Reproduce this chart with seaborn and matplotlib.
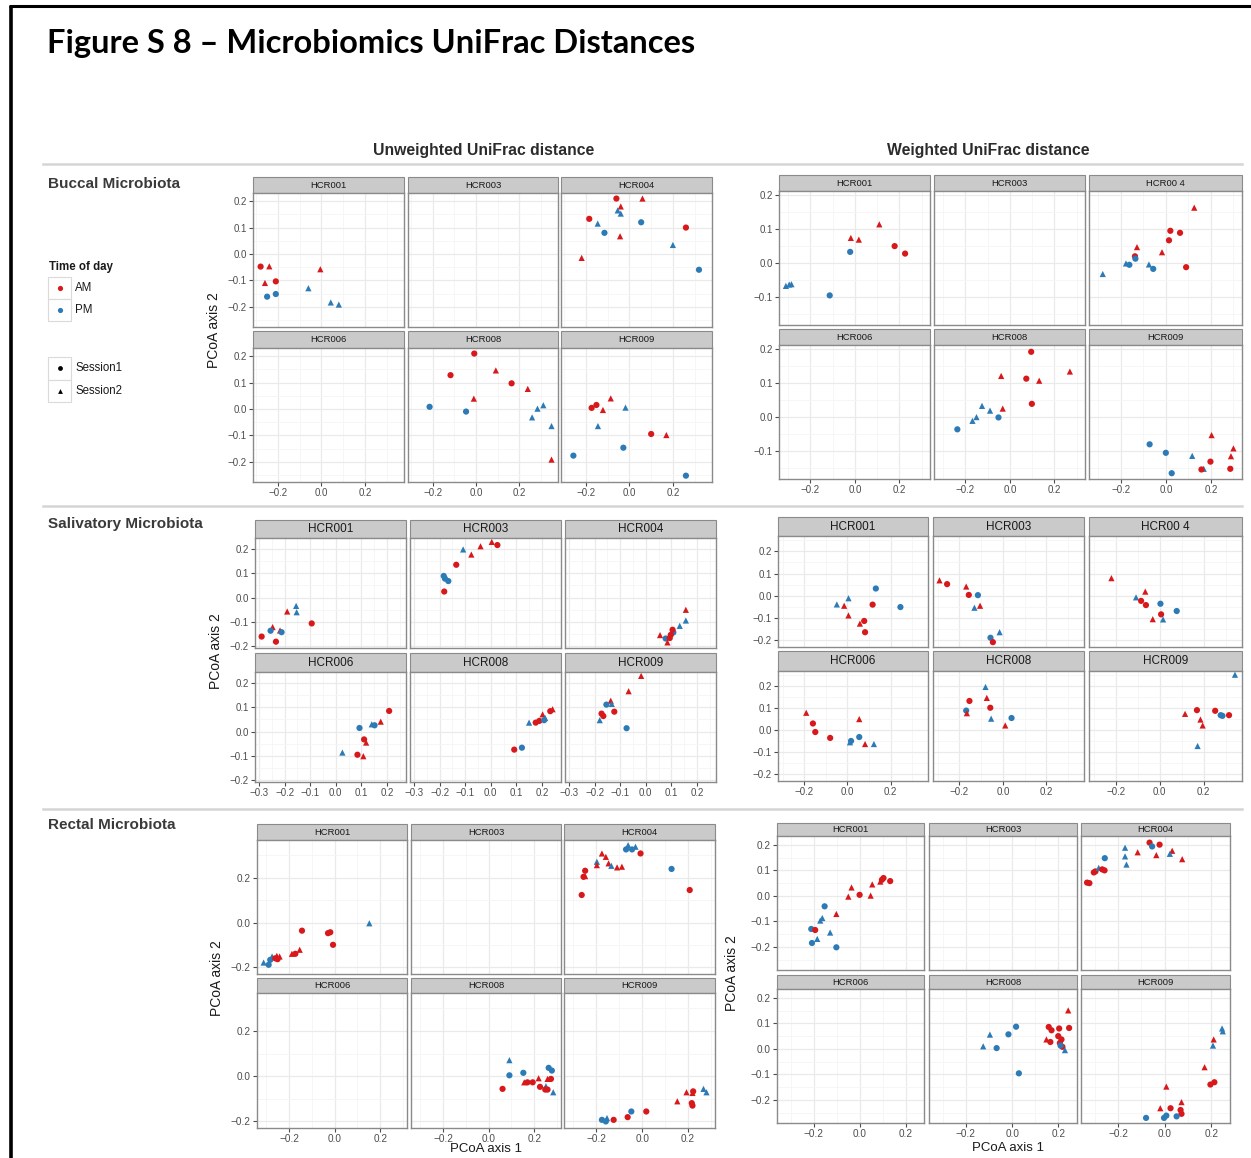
import matplotlib
matplotlib.use("Agg")
import matplotlib.pyplot as plt
import numpy as np
import pandas as pd
import seaborn as sns
from matplotlib.patches import Rectangle

plt.rcParams["font.family"] = ["Liberation Sans", "DejaVu Sans"]

W, H, DPI = 1251, 1158, 100
AM_COLOR = "#D7191C"
PM_COLOR = "#2C7BB6"
PALETTE = {"AM": AM_COLOR, "PM": PM_COLOR}
MARKERS = {"Session1": "o", "Session2": "^"}

subjects = ["HCR001", "HCR003", "HCR004", "HCR006", "HCR008", "HCR009"]
strip_plain = ["HCR001", "HCR003", "HCR004", "HCR006", "HCR008", "HCR009"]
strip_spaced = ["HCR001", "HCR003", "HCR00 4", "HCR006", "HCR008", "HCR009"]

# group codes: A = AM, P = PM; 1 = Session1, 2 = Session2

# ---- Buccal, unweighted UniFrac ----
buc_unw_001_x = [-0.28, -0.24, -0.26, -0.21, -0.25, -0.21, -0.005, -0.06, 0.043, 0.08]
buc_unw_001_y = [-0.048, -0.047, -0.11, -0.104, -0.162, -0.152, -0.058, -0.13, -0.184, -0.192]
buc_unw_001_g = "A1 A2 A2 A1 P1 P1 A2 P2 P2 P2"
buc_unw_004_x = [-0.06, -0.04, 0.06, -0.054, -0.04, -0.185, -0.146, -0.115, 0.054, 0.26, -0.043, -0.22, 0.2, 0.32]
buc_unw_004_y = [0.21, 0.18, 0.21, 0.165, 0.153, 0.133, 0.115, 0.08, 0.12, 0.1, 0.067, -0.015, 0.034, -0.06]
buc_unw_004_g = "A1 A2 A2 P2 P2 A1 P2 P1 P1 A1 A2 A2 P2 P1"
buc_unw_008_x = [-0.008, -0.118, 0.092, 0.165, 0.24, -0.01, -0.215, -0.046, 0.312, 0.285, 0.26, 0.35, 0.35]
buc_unw_008_y = [0.21, 0.128, 0.146, 0.097, 0.076, 0.039, 0.008, -0.01, 0.014, 0.001, -0.032, -0.065, -0.192]
buc_unw_008_g = "A1 A1 A2 A1 A2 A2 P1 P1 P2 P2 P2 P2 A2"
buc_unw_009_x = [-0.174, -0.152, -0.086, -0.122, -0.018, -0.145, -0.028, -0.258, 0.1, 0.17, 0.26]
buc_unw_009_y = [0.004, 0.015, 0.04, -0.004, 0.005, -0.065, -0.147, -0.177, -0.095, -0.099, -0.253]
buc_unw_009_g = "A1 A1 A2 A2 P2 P2 P1 P1 A1 A2 P1"

# ---- Buccal, weighted UniFrac ----
buc_w_001_x = [-0.018, 0.018, 0.11, 0.179, 0.226, -0.021, -0.31, -0.295, -0.285, -0.113]
buc_w_001_y = [0.075, 0.07, 0.115, 0.051, 0.029, 0.034, -0.066, -0.062, -0.061, -0.094]
buc_w_001_g = "A2 A2 A2 A1 A1 P1 P2 P2 P2 P1"
buc_w_004_x = [0.126, 0.02, 0.063, 0.014, -0.128, -0.017, -0.137, -0.135, 0.09, -0.177, -0.162, -0.075, -0.056, -0.28]
buc_w_004_y = [0.164, 0.096, 0.09, 0.068, 0.048, 0.033, 0.021, 0.014, -0.011, 0.0, -0.004, -0.003, -0.016, -0.031]
buc_w_004_g = "A2 A1 A1 A1 A2 A2 A1 P1 A1 P2 P1 P2 P1 P2"
buc_w_008_x = [0.096, 0.27, -0.039, 0.074, 0.132, 0.099, -0.032, -0.125, -0.089, -0.15, -0.168, -0.051, -0.236]
buc_w_008_y = [0.193, 0.135, 0.122, 0.114, 0.108, 0.04, 0.026, 0.034, 0.02, 0.001, -0.01, 0.0, -0.035]
buc_w_008_g = "A1 A2 A2 A1 A2 A1 A2 P2 P2 P2 P2 P1 P1"
buc_w_009_x = [-0.072, 0.0, 0.026, 0.117, 0.168, 0.158, 0.203, 0.198, 0.289, 0.3, 0.286]
buc_w_009_y = [-0.079, -0.104, -0.164, -0.113, -0.151, -0.153, -0.052, -0.13, -0.114, -0.091, -0.151]
buc_w_009_g = "P1 P1 P1 P2 P2 A1 A2 A1 A2 A2 A1"

# ---- Salivatory, unweighted UniFrac ----
sal_unw_001_x = [-0.29, -0.247, -0.255, -0.234, -0.218, -0.212, -0.19, -0.155, -0.153, -0.094]
sal_unw_001_y = [-0.16, -0.121, -0.136, -0.181, -0.135, -0.142, -0.057, -0.034, -0.06, -0.106]
sal_unw_001_g = "A1 A2 P1 A1 A2 P1 A2 P2 P2 A1"
sal_unw_003_x = [-0.108, -0.04, -0.076, 0.004, 0.026, -0.135, -0.184, -0.179, -0.166, -0.182]
sal_unw_003_y = [0.198, 0.211, 0.177, 0.229, 0.216, 0.135, 0.089, 0.078, 0.068, 0.025]
sal_unw_003_g = "P2 A2 A2 A2 A1 A1 P1 P1 P1 A1"
sal_unw_004_x = [0.157, 0.157, 0.133, 0.108, 0.105, 0.056, 0.078, 0.094, 0.085, 0.098]
sal_unw_004_y = [-0.05, -0.094, -0.116, -0.143, -0.132, -0.154, -0.168, -0.166, -0.184, -0.153]
sal_unw_004_g = "A2 P2 P2 P1 A1 A2 P1 A1 A2 A1"
sal_unw_006_x = [0.209, 0.176, 0.141, 0.152, 0.093, 0.111, 0.119, 0.026, 0.085, 0.108]
sal_unw_006_y = [0.085, 0.041, 0.03, 0.026, 0.015, -0.032, -0.045, -0.086, -0.095, -0.101]
sal_unw_006_g = "A1 A2 P2 P1 P1 A1 A2 P2 A1 A2"
sal_unw_008_x = [0.242, 0.233, 0.203, 0.213, 0.19, 0.209, 0.15, 0.092, 0.122, 0.176]
sal_unw_008_y = [0.092, 0.084, 0.071, 0.056, 0.044, 0.047, 0.037, -0.074, -0.066, 0.037]
sal_unw_008_g = "A2 A1 A2 P2 A1 P1 P2 A1 P1 A1"
sal_unw_009_x = [-0.018, -0.067, -0.137, -0.154, -0.133, -0.123, -0.173, -0.166, -0.18, -0.075]
sal_unw_009_y = [0.229, 0.166, 0.127, 0.111, 0.114, 0.082, 0.074, 0.064, 0.047, 0.014]
sal_unw_009_g = "A2 A2 A2 P1 P2 A1 A1 A1 P2 P1"

# ---- Salivatory, weighted UniFrac ----
sal_w_001_x = [-0.049, 0.005, -0.015, 0.005, 0.132, 0.117, 0.246, 0.078, 0.058, 0.082]
sal_w_001_y = [-0.04, -0.012, -0.046, -0.09, 0.032, -0.041, -0.052, -0.115, -0.127, -0.166]
sal_w_001_g = "P2 P2 A2 A2 P1 A1 P1 A1 A2 A1"
sal_w_003_x = [-0.292, -0.257, -0.169, -0.157, -0.115, -0.105, -0.131, -0.015, -0.057, -0.046]
sal_w_003_y = [0.069, 0.052, 0.041, 0.003, 0.002, -0.046, -0.055, -0.166, -0.191, -0.211]
sal_w_003_g = "A2 A1 A2 A1 P1 A2 P2 P2 P1 A1"
sal_w_004_x = [-0.22, -0.066, -0.108, -0.085, -0.063, 0.003, 0.077, 0.006, -0.032, 0.015]
sal_w_004_y = [0.079, 0.018, -0.008, -0.024, -0.043, -0.037, -0.07, -0.085, -0.107, -0.108]
sal_w_004_g = "A2 A2 P2 A1 A1 P1 P1 A1 A2 P2"
sal_w_006_x = [-0.191, -0.16, -0.149, -0.08, 0.055, 0.055, 0.012, 0.017, 0.082, 0.123]
sal_w_006_y = [0.079, 0.03, -0.009, -0.036, 0.05, -0.032, -0.056, -0.05, -0.064, -0.064]
sal_w_006_g = "A2 A1 A1 A1 A2 P1 P2 P1 A2 P2"
sal_w_008_x = [-0.08, -0.154, -0.074, -0.058, -0.169, -0.166, -0.054, 0.04, 0.011]
sal_w_008_y = [0.197, 0.133, 0.147, 0.102, 0.089, 0.077, 0.052, 0.055, 0.021]
sal_w_008_g = "P2 A1 A2 A1 P1 A2 P2 P1 A2"
sal_w_009_x = [0.342, 0.115, 0.169, 0.185, 0.195, 0.252, 0.277, 0.285, 0.315, 0.172]
sal_w_009_y = [0.253, 0.074, 0.091, 0.048, 0.021, 0.088, 0.068, 0.065, 0.068, -0.073]
sal_w_009_g = "P2 A2 A1 A2 A2 A1 P1 P1 A1 P2"

# ---- Rectal, unweighted UniFrac ----
rec_unw_001_x = [-0.311, -0.289, -0.282, -0.274, -0.26, -0.253, -0.241, -0.25, -0.187, -0.172, -0.153, -0.143, -0.029, -0.019, -0.007, 0.152]
rec_unw_001_y = [-0.178, -0.188, -0.166, -0.151, -0.159, -0.148, -0.151, -0.163, -0.139, -0.139, -0.121, -0.036, -0.047, -0.043, -0.099, -0.003]
rec_unw_001_g = "P2 P1 P1 P2 A1 A2 A2 A1 A2 A1 A2 A1 A1 A1 A1 P2"
rec_unw_004_x = [-0.061, -0.07, -0.029, -0.044, -0.007, -0.175, -0.158, -0.197, -0.197, -0.146, -0.134, -0.109, -0.088, -0.248, -0.248, -0.255, -0.263, 0.128, 0.207]
rec_unw_004_y = [0.345, 0.326, 0.338, 0.326, 0.308, 0.308, 0.293, 0.271, 0.256, 0.264, 0.253, 0.246, 0.249, 0.231, 0.207, 0.204, 0.123, 0.239, 0.145]
rec_unw_004_g = "P2 P1 P2 P1 A1 A2 A2 P2 A2 A2 P2 A2 A2 A1 A2 A1 A1 P1 A1"
rec_unw_008_x = [0.091, 0.091, 0.152, 0.061, 0.156, 0.17, 0.219, 0.193, 0.225, 0.263, 0.277, 0.258, 0.273, 0.251, 0.248, 0.258, 0.283]
rec_unw_008_y = [0.071, 0.004, 0.015, -0.056, -0.027, -0.027, -0.009, -0.027, -0.047, 0.037, 0.025, -0.012, -0.012, -0.044, -0.059, -0.059, -0.071]
rec_unw_008_g = "P2 P1 P1 A1 A2 A1 A2 A1 A1 P1 P1 A2 A1 P2 A1 A1 P2"
rec_unw_009_x = [-0.175, -0.158, -0.153, -0.124, -0.063, -0.047, 0.018, 0.153, 0.193, 0.219, 0.222, 0.216, 0.219, 0.267, 0.28]
rec_unw_009_y = [-0.193, -0.2, -0.185, -0.193, -0.181, -0.156, -0.156, -0.111, -0.071, -0.074, -0.067, -0.119, -0.13, -0.056, -0.071]
rec_unw_009_g = "P1 P1 P2 A1 A1 P1 A1 A2 A2 A2 A1 A1 A1 P2 P2"

# ---- Rectal, weighted UniFrac ----
rec_w_001_x = [-0.21, -0.193, -0.207, -0.184, -0.171, -0.162, -0.152, -0.128, -0.101, -0.101, -0.049, -0.035, 0.0, 0.048, 0.055, 0.09, 0.104, 0.097, 0.133]
rec_w_001_y = [-0.13, -0.134, -0.185, -0.169, -0.097, -0.087, -0.041, -0.144, -0.202, -0.071, -0.003, 0.033, 0.004, 0.001, 0.045, 0.056, 0.07, 0.063, 0.058]
rec_w_001_g = "P1 A1 P1 P2 P2 P2 P1 P2 P1 A2 A2 A2 A1 A2 A2 A2 A1 A1 A1"
rec_w_004_x = [-0.333, -0.323, -0.304, -0.297, -0.283, -0.268, -0.258, -0.257, -0.17, -0.17, -0.164, -0.116, -0.065, -0.054, -0.022, -0.036, 0.032, 0.022, 0.075]
rec_w_004_y = [0.052, 0.05, 0.092, 0.096, 0.11, 0.104, 0.1, 0.148, 0.189, 0.155, 0.123, 0.171, 0.209, 0.194, 0.201, 0.16, 0.177, 0.165, 0.144]
rec_w_004_g = "A1 A1 A1 A1 P2 A1 A1 P1 P2 P2 P2 A2 A1 P1 A1 A2 A2 P2 A2"
rec_w_008_x = [-0.125, -0.096, -0.067, -0.016, 0.017, 0.029, 0.242, 0.246, 0.158, 0.17, 0.203, 0.148, 0.165, 0.199, 0.213, 0.206, 0.217, 0.209, 0.228]
rec_w_008_y = [0.01, 0.056, 0.003, 0.057, 0.087, -0.096, 0.151, 0.082, 0.086, 0.073, 0.08, 0.037, 0.027, 0.05, 0.037, 0.023, 0.008, 0.013, -0.005]
rec_w_008_g = "P2 P2 P1 P1 P1 P1 A2 A1 A1 A1 A1 A2 A1 A1 A1 A1 A1 P1 P2"
rec_w_009_x = [0.246, 0.249, 0.21, 0.207, 0.171, 0.196, 0.213, 0.007, 0.072, -0.019, 0.025, 0.068, 0.072, -0.08, -0.003, 0.007, 0.051]
rec_w_009_y = [0.08, 0.069, 0.037, 0.013, -0.072, -0.14, -0.131, -0.148, -0.209, -0.233, -0.233, -0.24, -0.255, -0.271, -0.271, -0.262, -0.265]
rec_w_009_g = "P2 P2 A2 P2 A2 A1 A1 A2 A2 A2 A1 A1 A1 P1 P1 P1 P1"


def frame(x, y, g):
    codes = g.split()
    return pd.DataFrame({
        "PC1": x, "PC2": y,
        "Time of day": ["AM" if c[0] == "A" else "PM" for c in codes],
        "Session": ["Session" + c[1] for c in codes],
    })


blocks = [
    dict(data={"HCR001": frame(buc_unw_001_x, buc_unw_001_y, buc_unw_001_g),
               "HCR004": frame(buc_unw_004_x, buc_unw_004_y, buc_unw_004_g),
               "HCR008": frame(buc_unw_008_x, buc_unw_008_y, buc_unw_008_g),
               "HCR009": frame(buc_unw_009_x, buc_unw_009_y, buc_unw_009_g)},
         cols=[(253, 404), (408, 558), (561, 712)],
         rows=[(177, 193, 327), (331, 348, 482)],
         xlim=(-0.315, 0.38), ylim=(-0.277, 0.231),
         xticks=[-0.2, 0.0, 0.2], yticks=[-0.2, -0.1, 0.0, 0.1, 0.2],
         strips=strip_plain, sfs=6.8, tfs=7.0, ylabel=(214, 330), xlabel=None),
    dict(data={"HCR001": frame(buc_w_001_x, buc_w_001_y, buc_w_001_g),
               "HCR004": frame(buc_w_004_x, buc_w_004_y, buc_w_004_g),
               "HCR008": frame(buc_w_008_x, buc_w_008_y, buc_w_008_g),
               "HCR009": frame(buc_w_009_x, buc_w_009_y, buc_w_009_g)},
         cols=[(779, 930), (934, 1085), (1089, 1242)],
         rows=[(175, 191, 325), (329, 345, 479)],
         xlim=(-0.341, 0.338), ylim=(-0.181, 0.213),
         xticks=[-0.2, 0.0, 0.2], yticks=[-0.1, 0.0, 0.1, 0.2],
         strips=strip_spaced, sfs=6.8, tfs=7.0, ylabel=None, xlabel=None),
    dict(data={"HCR001": frame(sal_unw_001_x, sal_unw_001_y, sal_unw_001_g),
               "HCR003": frame(sal_unw_003_x, sal_unw_003_y, sal_unw_003_g),
               "HCR004": frame(sal_unw_004_x, sal_unw_004_y, sal_unw_004_g),
               "HCR006": frame(sal_unw_006_x, sal_unw_006_y, sal_unw_006_g),
               "HCR008": frame(sal_unw_008_x, sal_unw_008_y, sal_unw_008_g),
               "HCR009": frame(sal_unw_009_x, sal_unw_009_y, sal_unw_009_g)},
         cols=[(255, 406), (410, 561), (565, 716)],
         rows=[(520, 538, 648), (653, 672, 782)],
         xlim=(-0.316, 0.275), ylim=(-0.207, 0.245),
         xticks=[-0.3, -0.2, -0.1, 0.0, 0.1, 0.2], yticks=[-0.2, -0.1, 0.0, 0.1, 0.2],
         strips=strip_plain, sfs=8.5, tfs=7.0, ylabel=(216, 651), xlabel=None),
    dict(data={"HCR001": frame(sal_w_001_x, sal_w_001_y, sal_w_001_g),
               "HCR003": frame(sal_w_003_x, sal_w_003_y, sal_w_003_g),
               "HCR004": frame(sal_w_004_x, sal_w_004_y, sal_w_004_g),
               "HCR006": frame(sal_w_006_x, sal_w_006_y, sal_w_006_g),
               "HCR008": frame(sal_w_008_x, sal_w_008_y, sal_w_008_g),
               "HCR009": frame(sal_w_009_x, sal_w_009_y, sal_w_009_g)},
         cols=[(778, 928), (933, 1084), (1089, 1242)],
         rows=[(517, 536, 647), (651, 671, 781)],
         xlim=(-0.322, 0.374), ylim=(-0.233, 0.27),
         xticks=[-0.2, 0.0, 0.2], yticks=[-0.2, -0.1, 0.0, 0.1, 0.2],
         strips=strip_spaced, sfs=8.5, tfs=7.0, ylabel=None, xlabel=None),
    dict(data={"HCR001": frame(rec_unw_001_x, rec_unw_001_y, rec_unw_001_g),
               "HCR004": frame(rec_unw_004_x, rec_unw_004_y, rec_unw_004_g),
               "HCR008": frame(rec_unw_008_x, rec_unw_008_y, rec_unw_008_g),
               "HCR009": frame(rec_unw_009_x, rec_unw_009_y, rec_unw_009_g)},
         cols=[(257, 407), (411, 561), (564, 715)],
         rows=[(824, 840, 974), (978, 993, 1128)],
         xlim=(-0.34, 0.317), ylim=(-0.229, 0.368),
         xticks=[-0.2, 0.0, 0.2], yticks=[-0.2, 0.0, 0.2],
         strips=strip_plain, sfs=6.8, tfs=7.2, ylabel=(217, 978), xlabel=(486, 1149)),
    dict(data={"HCR001": frame(rec_w_001_x, rec_w_001_y, rec_w_001_g),
               "HCR004": frame(rec_w_004_x, rec_w_004_y, rec_w_004_g),
               "HCR008": frame(rec_w_008_x, rec_w_008_y, rec_w_008_g),
               "HCR009": frame(rec_w_009_x, rec_w_009_y, rec_w_009_g)},
         cols=[(777, 924), (929, 1077), (1081, 1230)],
         rows=[(823, 836, 970), (975, 989, 1123)],
         xlim=(-0.359, 0.28), ylim=(-0.291, 0.235),
         xticks=[-0.2, 0.0, 0.2], yticks=[-0.2, -0.1, 0.0, 0.1, 0.2],
         strips=strip_plain, sfs=6.8, tfs=7.2, ylabel=(732, 973), xlabel=(1008, 1148)),
]

fig = plt.figure(figsize=(W / DPI, H / DPI), dpi=DPI)
fig.patch.set_facecolor("white")

ov = fig.add_axes([0, 0, 1, 1])
ov.set_xlim(0, W)
ov.set_ylim(H, 0)
ov.axis("off")


def px_axes(x0, y0, x1, y1):
    return fig.add_axes([x0 / W, 1 - y1 / H, (x1 - x0) / W, (y1 - y0) / H])


def minor_between(ticks, lim):
    step = ticks[1] - ticks[0]
    vals = np.arange(ticks[0] - step / 2, ticks[-1] + step, step)
    return [v for v in vals if lim[0] < v < lim[1]]


BORDER = "#8A8A8A"
for blk in blocks:
    for i, subj in enumerate(subjects):
        r, c = divmod(i, 3)
        x0, x1 = blk["cols"][c]
        s_top, s_bot, p_bot = blk["rows"][r]
        # facet strip
        ov.add_patch(Rectangle((x0, s_top), x1 - x0, s_bot - s_top,
                               facecolor="#CACACA", edgecolor=BORDER, lw=0.8))
        ov.text((x0 + x1) / 2, (s_top + s_bot) / 2 + 0.5, blk["strips"][i],
                ha="center", va="center", fontsize=blk["sfs"], color="#1A1A1A")
        ax = px_axes(x0, s_bot, x1, p_bot)
        ax.set_facecolor("white")
        ax.set_xlim(*blk["xlim"])
        ax.set_ylim(*blk["ylim"])
        ax.set_xticks(blk["xticks"])
        ax.set_yticks(blk["yticks"])
        ax.set_xticks(minor_between(blk["xticks"], blk["xlim"]), minor=True)
        ax.set_yticks(minor_between(blk["yticks"], blk["ylim"]), minor=True)
        ax.grid(True, which="major", color="#EAEAEA", lw=0.9)
        ax.grid(True, which="minor", color="#F5F5F5", lw=0.6)
        ax.set_axisbelow(True)
        for sp in ax.spines.values():
            sp.set_color(BORDER)
            sp.set_linewidth(1.0)
        ax.set_xticklabels([f"{v:.1f}".replace("-", "\u2212") for v in blk["xticks"]])
        ax.set_yticklabels([f"{v:.1f}".replace("-", "\u2212") for v in blk["yticks"]])
        ax.tick_params(which="major", length=3, width=0.8, color="#4D4D4D",
                       labelcolor="#4D4D4D", labelsize=blk["tfs"], pad=1.5)
        ax.tick_params(which="minor", length=0)
        ax.tick_params(axis="x", bottom=(r == 1), labelbottom=(r == 1))
        ax.tick_params(axis="y", left=(c == 0), labelleft=(c == 0))
        df = blk["data"].get(subj)
        if df is not None:
            sns.scatterplot(data=df, x="PC1", y="PC2", hue="Time of day",
                            style="Session", palette=PALETTE, markers=MARKERS,
                            hue_order=["AM", "PM"], style_order=["Session1", "Session2"],
                            s=20, linewidth=0, legend=False, ax=ax, clip_on=False)
        ax.set_xlabel("")
        ax.set_ylabel("")
    if blk["ylabel"] is not None:
        ov.text(blk["ylabel"][0], blk["ylabel"][1], "PCoA axis 2", rotation=90,
                ha="center", va="center", fontsize=10, color="#1A1A1A")
    if blk["xlabel"] is not None:
        ov.text(blk["xlabel"][0], blk["xlabel"][1], "PCoA axis 1",
                ha="center", va="center", fontsize=9.5, color="#1A1A1A")

# page frame
ov.plot([10.5, 10.5], [6, H], color="black", lw=2.6, solid_capstyle="butt")
ov.plot([9, W], [6, 6], color="black", lw=2.2, solid_capstyle="butt")

# title
ov.text(47, 43, "Figure S 8 \u2013 Microbiomics UniFrac Distances", fontsize=23.5,
        fontweight="bold", family=["Lato", "DejaVu Sans"], va="center", ha="left",
        color="black")

# column headers and separators
ov.text(484, 150, "Unweighted UniFrac distance", fontsize=11.3, fontweight="bold",
        ha="center", va="center", color="#2B2B2B")
ov.text(988, 150, "Weighted UniFrac distance", fontsize=11.3, fontweight="bold",
        ha="center", va="center", color="#2B2B2B")
for yy in (163.5, 505.5, 808.5):
    ov.plot([43, 1242], [yy, yy], color="#D5D5D5", lw=1.8)

# row labels
for yy, lab in ((184, "Buccal Microbiota"), (524, "Salivatory Microbiota"),
                (825, "Rectal Microbiota")):
    ov.text(48, yy, lab, fontsize=11, fontweight="bold", ha="left", va="center",
            color="#3A3A3A")

# legends
ov.text(49, 267, "Time of day", fontsize=8.3, fontweight="bold", ha="left",
        va="center", color="#1A1A1A")
for k, (lab, col) in enumerate((("AM", AM_COLOR), ("PM", PM_COLOR))):
    top = 277 + 22 * k
    ov.add_patch(Rectangle((48, top), 23, 22, facecolor="white",
                           edgecolor="#DADADA", lw=0.8))
    ov.scatter([59.5], [top + 11], s=14, color=col, marker="o", linewidths=0)
    ov.text(75, top + 11, lab, fontsize=8.3, ha="left", va="center", color="#1A1A1A")
for k, (lab, mk) in enumerate((("Session1", "o"), ("Session2", "^"))):
    top = 357 + 22.5 * k
    ov.add_patch(Rectangle((48, top), 23, 22.5, facecolor="white",
                           edgecolor="#DADADA", lw=0.8))
    ov.scatter([59.5], [top + 11], s=12, color="black", marker=mk, linewidths=0)
    ov.text(75, top + 11, lab, fontsize=8.3, ha="left", va="center", color="#1A1A1A")

fig.savefig("out.png", dpi=DPI, facecolor="white")
